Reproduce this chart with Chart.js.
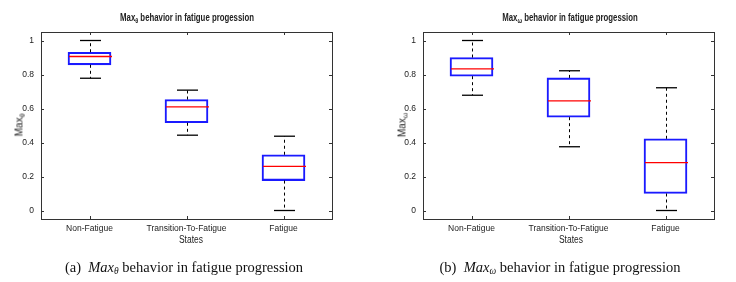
<!DOCTYPE html>
<html>
<head>
<meta charset="utf-8">
<script src="https://cdn.jsdelivr.net/npm/chart.js@4.4.0/dist/chart.umd.min.js"></script>
<style>
  body { margin: 0; background: #fff; width: 736px; height: 282px; position: relative; overflow: hidden;
         font-family: "Liberation Sans", Arial, sans-serif; color: #222; }
  .panel { position: absolute; top: 0; width: 368px; height: 250px; }
  .panel canvas { position: absolute; left: 0; top: 0; }
  .title { position: absolute; top: 12px; font-weight: bold; font-size: 10px; white-space: nowrap; transform: translateX(-50%) scaleX(0.78); }
  .ylab { position: absolute; top: 125px; font-size: 10px; white-space: nowrap; transform: translate(-50%, -50%) rotate(-90deg); }
  .xlab { position: absolute; top: 234px; font-size: 10px; transform: translateX(-50%) scaleX(0.85); }
  sub { font-size: 70%; vertical-align: -2px; line-height: 0; }
  .caption { position: absolute; top: 259px; font-family: "Liberation Serif", "DejaVu Serif", serif; font-size: 14.5px;
             white-space: nowrap; transform: translateX(-50%); color: #111; }
  .caption i sub { font-size: 65%; }
</style>
</head>
<body>
<div class="panel" style="left:0">
  <canvas id="chartTheta" width="368" height="250"></canvas>
  <div class="title" style="left:187px">Max<sub>θ</sub> behavior in fatigue progession</div>
  <div class="ylab" style="left:19px">Max<sub>θ</sub></div>
  <div class="xlab" style="left:191px">States</div>
</div>
<div class="panel" style="left:368px">
  <canvas id="chartOmega" width="368" height="250"></canvas>
  <div class="title" style="left:202px">Max<sub>ω</sub> behavior in fatigue progession</div>
  <div class="ylab" style="left:34px">Max<sub>ω</sub></div>
  <div class="xlab" style="left:203px">States</div>
</div>
<div class="caption" style="left:184px">(a)&nbsp; <i>Max<sub>θ</sub></i> behavior in fatigue progression</div>
<div class="caption" style="left:560px">(b)&nbsp; <i>Max<sub>ω</sub></i> behavior in fatigue progression</div>

<script>
const states = ['Non-Fatigue', 'Transition-To-Fatigue', 'Fatigue'];
const yTicks = [0, 0.2, 0.4, 0.6, 0.8, 1];

// Max theta
const thetaMin = [0.778, 0.443, 0.0];
const thetaQ1 = [0.857, 0.516, 0.176];
const thetaMedian = [0.906, 0.610, 0.259];
const thetaQ3 = [0.931, 0.653, 0.328];
const thetaMax = [1.0, 0.708, 0.437];

// Max omega
const omegaMin = [0.678, 0.375, 0.0];
const omegaQ1 = [0.790, 0.549, 0.100];
const omegaMedian = [0.833, 0.645, 0.282];
const omegaQ3 = [0.900, 0.780, 0.422];
const omegaMax = [1.0, 0.822, 0.722];

const FONT = '"Liberation Sans", Arial, sans-serif';

function line(ctx, x1, y1, x2, y2) {
    ctx.beginPath();
    ctx.moveTo(x1, y1);
    ctx.lineTo(x2, y2);
    ctx.stroke();
}

function makeBoxChart(id, box, area) {
    const canvas = document.getElementById(id);

    // whiskers, caps and medians drawn through the scales
    const boxParts = {
        id: 'boxParts',
        afterDatasetsDraw(chart) {
            const { ctx, scales: { x, y } } = chart;
            const bars = chart.getDatasetMeta(0).data;
            ctx.save();
            box.median.forEach((m, i) => {
                const cx = Math.round(x.getPixelForValue(i)) + 0.5;
                ctx.strokeStyle = '#000';
                ctx.lineWidth = 1;
                ctx.setLineDash([3, 3]);
                line(ctx, cx, y.getPixelForValue(box.q3[i]), cx, y.getPixelForValue(box.max[i]));
                line(ctx, cx, y.getPixelForValue(box.q1[i]), cx, y.getPixelForValue(box.min[i]));
                ctx.setLineDash([]);
                ctx.lineWidth = 1.3;
                line(ctx, cx - 10.5, y.getPixelForValue(box.max[i]), cx + 10.5, y.getPixelForValue(box.max[i]));
                line(ctx, cx - 10.5, y.getPixelForValue(box.min[i]), cx + 10.5, y.getPixelForValue(box.min[i]));
                const bw = bars[i].width;
                ctx.strokeStyle = '#ff0000';
                line(ctx, cx - bw / 2, y.getPixelForValue(m), cx + bw / 2, y.getPixelForValue(m));
            });
            ctx.restore();
        }
    };

    // matlab style frame with inward ticks
    const frame = {
        id: 'frame',
        afterDraw(chart) {
            const { ctx, chartArea: a, scales: { x, y } } = chart;
            ctx.save();
            ctx.strokeStyle = '#333';
            ctx.lineWidth = 1;
            ctx.strokeRect(Math.round(a.left) + 0.5, Math.round(a.top) + 0.5,
                Math.round(a.right - a.left), Math.round(a.bottom - a.top));
            yTicks.forEach(v => {
                const py = Math.round(y.getPixelForValue(v)) + 0.5;
                line(ctx, a.left, py, a.left + 3, py);
                line(ctx, a.right - 3, py, a.right, py);
            });
            states.forEach((s, i) => {
                const px = Math.round(x.getPixelForValue(i)) + 0.5;
                line(ctx, px, a.bottom, px, a.bottom - 3);
                line(ctx, px, a.top, px, a.top + 3);
            });
            ctx.restore();
        }
    };

    return new Chart(canvas, {
        type: 'bar',
        data: {
            labels: states,
            datasets: [{
                data: box.q1.map((q, i) => [q, box.q3[i]]),
                backgroundColor: 'rgba(0,0,0,0)',
                borderColor: '#1a1aff',
                borderWidth: 1.4,
                borderSkipped: false,
                barThickness: 43
            }]
        },
        options: {
            responsive: false,
            animation: false,
            layout: {
                padding: { left: 0, top: area.top, right: 368 - area.right, bottom: 250 - area.bottom - 30 }
            },
            plugins: {
                legend: { display: false },
                tooltip: { enabled: false },
                title: { display: false }
            },
            scales: {
                x: {
                    grid: { display: false, drawTicks: false, tickLength: 0 },
                    border: { display: false },
                    ticks: { color: '#222', font: { family: FONT, size: 8.5 }, padding: 5, maxRotation: 0 },
                    afterFit(scale) { scale.height = 30; }
                },
                y: {
                    min: -0.05,
                    max: 1.05,
                    grid: { display: false, drawTicks: false, tickLength: 0 },
                    border: { display: false },
                    afterBuildTicks(scale) { scale.ticks = yTicks.map(v => ({ value: v })); },
                    ticks: {
                        color: '#222',
                        font: { family: FONT, size: 8.5 },
                        padding: 7,
                        callback: v => String(v)
                    },
                    afterFit(scale) { scale.width = area.left; }
                }
            }
        },
        plugins: [boxParts, frame]
    });
}

makeBoxChart('chartTheta',
    { min: thetaMin, q1: thetaQ1, median: thetaMedian, q3: thetaQ3, max: thetaMax },
    { left: 41, right: 332, top: 32, bottom: 219 });

makeBoxChart('chartOmega',
    { min: omegaMin, q1: omegaQ1, median: omegaMedian, q3: omegaQ3, max: omegaMax },
    { left: 55, right: 346, top: 32, bottom: 219 });
</script>
</body>
</html>
